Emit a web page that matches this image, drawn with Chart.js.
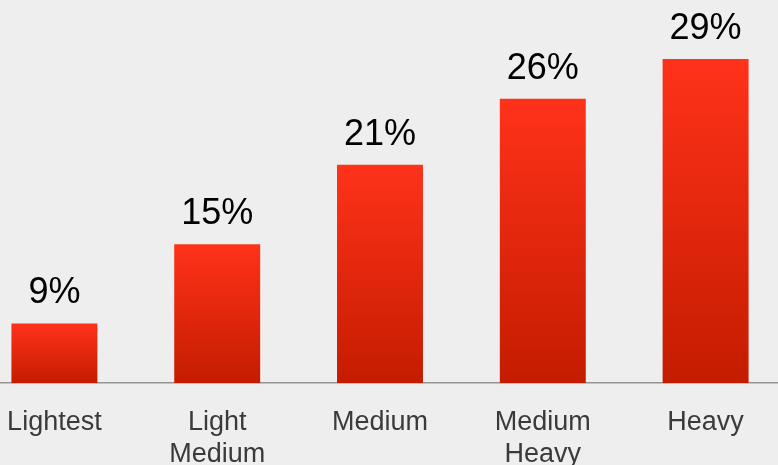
<!DOCTYPE html>
<html>
<head>
<meta charset="utf-8">
<script src="https://cdn.jsdelivr.net/npm/chart.js@4.4.1/dist/chart.umd.min.js"></script>
<style>
  html, body { margin: 0; padding: 0; background: #eeeeee; overflow: hidden; }
  #wrap { position: absolute; left: -27px; top: 0; width: 814px; height: 465px; }
</style>
</head>
<body>
<div id="wrap"><canvas id="barChart" width="814" height="465"></canvas></div>
<script>
// ================== Data ==================
const categories = [["Lightest"], ["Light", "Medium"], ["Medium"], ["Medium", "Heavy"], ["Heavy"]];
const shares = [9, 15, 21, 26, 29];

const FONT = "'Liberation Sans', Arial, sans-serif";

// ================== Helpers ==================
// vertical red gradient per bar, from its top down to the baseline
function barFill(context) {
  const chart = context.chart;
  const yScale = chart.scales.y;
  const area = chart.chartArea;
  if (!yScale || !area || context.raw == null) return "#e52a0d";
  const top = yScale.getPixelForValue(context.raw);
  const g = chart.ctx.createLinearGradient(0, top, 0, area.bottom);
  g.addColorStop(0, "#ff321a");
  g.addColorStop(1, "#c41c00");
  return g;
}

// percentage above each bar
const valueLabels = {
  id: "valueLabels",
  afterDatasetsDraw(chart) {
    const ctx = chart.ctx;
    const values = chart.data.datasets[0].data;
    ctx.save();
    ctx.font = `36px ${FONT}`;
    ctx.fillStyle = "#000000";
    ctx.textAlign = "center";
    ctx.textBaseline = "alphabetic";
    chart.getDatasetMeta(0).data.forEach((bar, i) => {
      ctx.fillText(values[i] + "%", bar.x, bar.y - 20);
    });
    ctx.restore();
  },
};

// ================== Chart ==================
new Chart(document.getElementById("barChart"), {
  type: "bar",
  data: {
    labels: categories,
    datasets: [{ data: shares, backgroundColor: barFill, barPercentage: 0.528, categoryPercentage: 1 }],
  },
  options: {
    responsive: false,
    animation: false,
    layout: { padding: 0 },
    plugins: { legend: { display: false }, tooltip: { enabled: false } },
    scales: {
      x: {
        grid: { display: false, drawTicks: false },
        border: { display: true, color: "#949494", width: 1.5 },
        ticks: {
          color: "#3a3a3a",
          padding: 24,
          font: { family: FONT, size: 27, lineHeight: 1.17 },
          maxRotation: 0,
        },
        afterFit(scale) { scale.height = 82; },
      },
      y: { display: false, min: 4.5, max: 33.46 },
    },
  },
  plugins: [valueLabels],
});
</script>
</body>
</html>
